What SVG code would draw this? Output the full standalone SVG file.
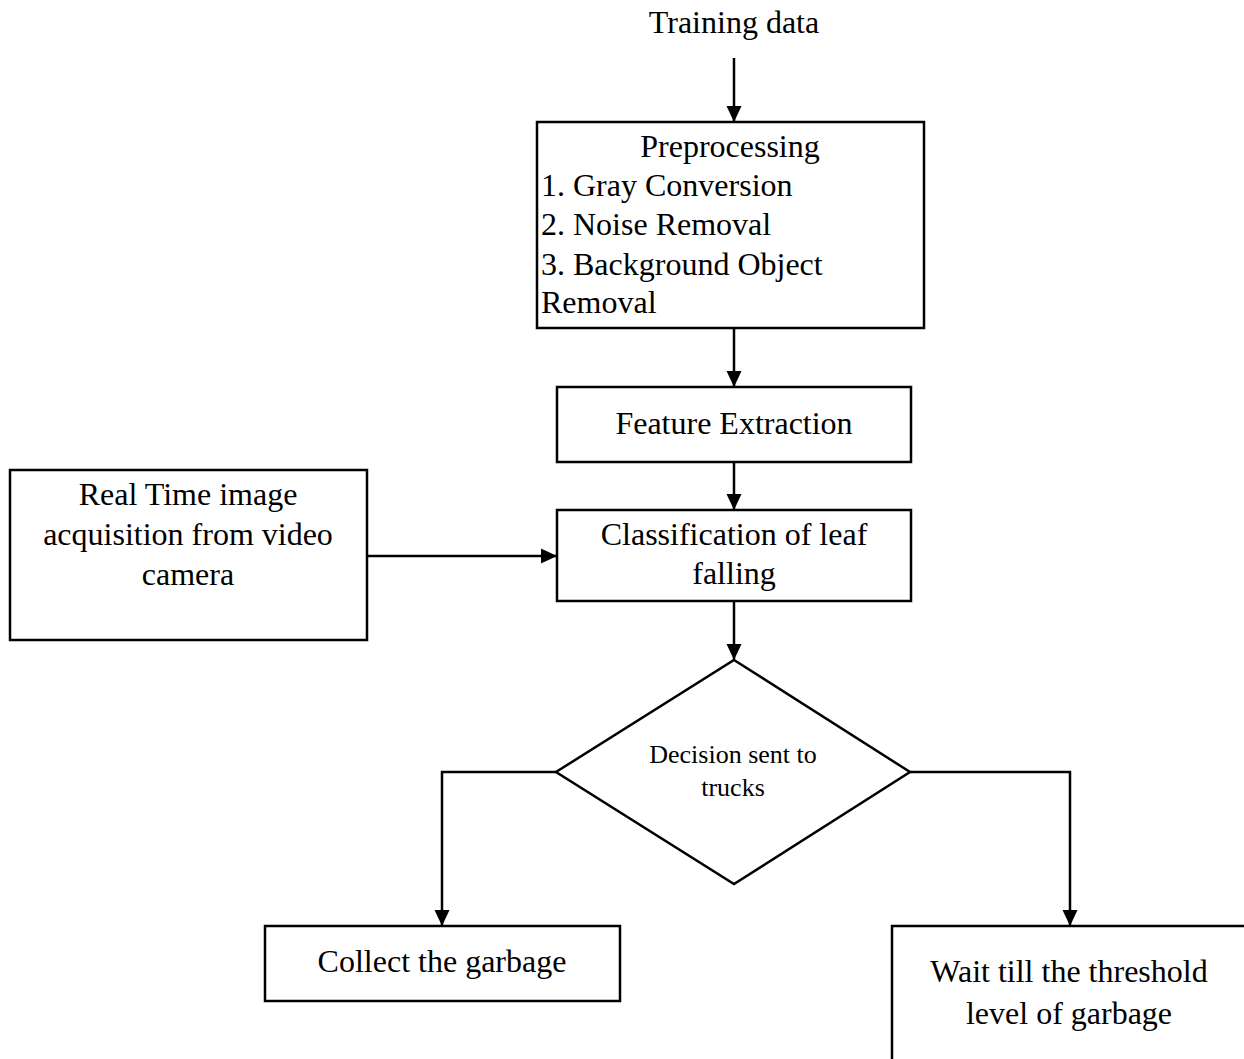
<svg xmlns="http://www.w3.org/2000/svg" width="1244" height="1059" viewBox="0 0 1244 1059">
<style>
.box{fill:#fff;stroke:#000;stroke-width:2.5}
.t{font-family:"Liberation Serif","Times New Roman",serif;font-size:32px;fill:#000}
.c{text-anchor:middle}
.s{font-size:26px}
.ln{fill:none;stroke:#000;stroke-width:2.5}
</style>
<defs>
<marker id="ah" markerWidth="16" markerHeight="16" refX="16" refY="8" orient="auto" markerUnits="userSpaceOnUse">
<path d="M0,0.5 L16,8 L0,15.5 Z" fill="#000"/>
</marker>
</defs>
<rect width="1244" height="1059" fill="#fff"/>
<g id="connectors">
<line class="ln" x1="734" y1="58" x2="734" y2="122" marker-end="url(#ah)"/>
<line class="ln" x1="734" y1="328" x2="734" y2="387" marker-end="url(#ah)"/>
<line class="ln" x1="734" y1="462" x2="734" y2="510" marker-end="url(#ah)"/>
<line class="ln" x1="367" y1="556" x2="557" y2="556" marker-end="url(#ah)"/>
<line class="ln" x1="734" y1="601" x2="734" y2="660" marker-end="url(#ah)"/>
<polyline class="ln" points="556,772 442,772 442,926" marker-end="url(#ah)"/>
<polyline class="ln" points="910,772 1070,772 1070,926" marker-end="url(#ah)"/>
</g>
<g id="training-data">
<text class="t c" x="734" y="33">Training data</text>
</g>
<g id="preprocessing">
<rect class="box" x="537" y="122" width="387" height="206"/>
<text class="t c" x="730" y="157">Preprocessing</text>
<text class="t" x="541" y="196">1. Gray Conversion</text>
<text class="t" x="541" y="235">2. Noise Removal</text>
<text class="t" x="541" y="275">3. Background Object</text>
<text class="t" x="541" y="313">Removal</text>
</g>
<g id="feature-extraction">
<rect class="box" x="557" y="387" width="354" height="75"/>
<text class="t c" x="734" y="434">Feature Extraction</text>
</g>
<g id="real-time">
<rect class="box" x="10" y="470" width="357" height="170"/>
<text class="t c" x="188" y="505">Real Time image</text>
<text class="t c" x="188" y="545">acquisition from video</text>
<text class="t c" x="188" y="585">camera</text>
</g>
<g id="classification">
<rect class="box" x="557" y="510" width="354" height="91"/>
<text class="t c" x="734" y="545">Classification of leaf</text>
<text class="t c" x="734" y="584">falling</text>
</g>
<g id="decision">
<polygon class="box" points="734,660 910,772 734,884 556,772"/>
<text class="t c s" x="733" y="763">Decision sent to</text>
<text class="t c s" x="733" y="796">trucks</text>
</g>
<g id="collect">
<rect class="box" x="265" y="926" width="355" height="75"/>
<text class="t c" x="442" y="972">Collect the garbage</text>
</g>
<g id="wait">
<rect class="box" x="892" y="926" width="360" height="140"/>
<text class="t c" x="1069" y="982">Wait till the threshold</text>
<text class="t c" x="1069" y="1024">level of garbage</text>
</g>
</svg>
